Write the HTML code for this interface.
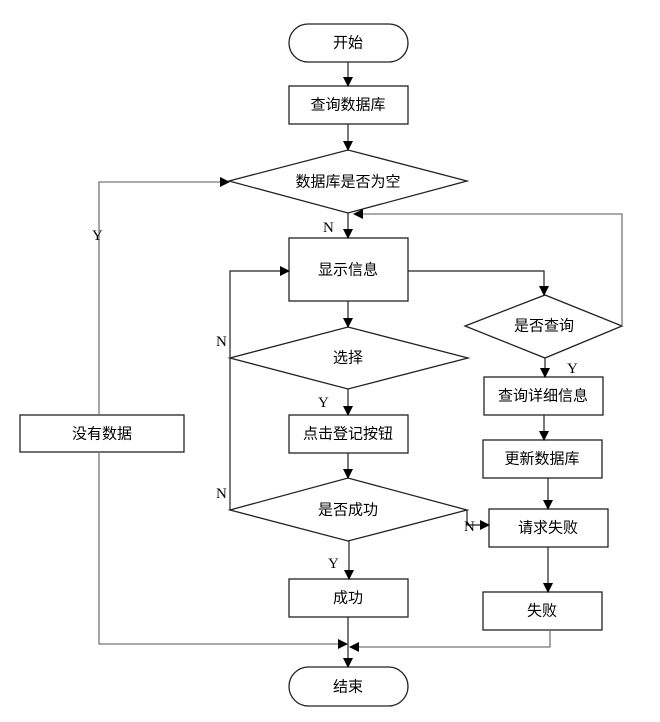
<!DOCTYPE html>
<html><head><meta charset="utf-8"><style>
html,body{margin:0;padding:0;background:#fff;}
svg{display:block;}
text{font-family:"Liberation Serif","Noto Sans CJK SC",serif;font-size:15px;fill:#000;}
.c{font-family:"Liberation Sans","Noto Sans CJK SC",sans-serif;text-anchor:middle;dominant-baseline:central;}
</style></head><body>
<svg width="660" height="722" viewBox="0 0 660 722" xmlns="http://www.w3.org/2000/svg">
<defs><marker id="a" markerWidth="10" markerHeight="10" refX="9" refY="5" orient="auto" markerUnits="userSpaceOnUse"><path d="M0,0 L10,5 L0,10 z" fill="#000"/></marker></defs>
<g fill="#fff" stroke="#222" stroke-width="1.3">
<rect x="289" y="24" width="119" height="38" rx="19"/>
<rect x="289" y="86" width="119" height="38"/>
<polygon points="229,181 348,150 467,181 348,213"/>
<rect x="289" y="238" width="119" height="63"/>
<polygon points="230,358 348,327 468,358 348,389"/>
<rect x="289" y="415" width="119" height="38"/>
<polygon points="230,510 348,478 467,510 348,541"/>
<rect x="289" y="579" width="119" height="38"/>
<rect x="289" y="667" width="119" height="39" rx="19.5"/>
<rect x="20" y="415" width="164" height="37"/>
<polygon points="465,326 545,295 622,326 545,358"/>
<rect x="484" y="377" width="119" height="38"/>
<rect x="483" y="440" width="119" height="38"/>
<rect x="489" y="509" width="119" height="38"/>
<rect x="483" y="592" width="119" height="38"/>
</g>
<g fill="none" stroke="#222" stroke-width="1.2" marker-end="url(#a)">
<line x1="348" y1="62" x2="348" y2="86"/>
<line x1="348" y1="124" x2="348" y2="150"/>
<line x1="348" y1="213" x2="348" y2="238"/>
<line x1="348" y1="301" x2="348" y2="327"/>
<line x1="348" y1="389" x2="348" y2="415"/>
<line x1="348" y1="453" x2="348" y2="478"/>
<line x1="349" y1="541" x2="349" y2="579"/>
<line x1="348" y1="617" x2="348" y2="667"/>
<polyline points="408,271 544,271 544,295"/>
<line x1="545" y1="358" x2="545" y2="377"/>
<line x1="544" y1="415" x2="544" y2="440"/>
<line x1="548" y1="478" x2="548" y2="509"/>
<line x1="548" y1="547" x2="548" y2="592"/>
<polyline points="230,510 230,271 289,271"/>
<polyline points="467,510 467,525 489,525"/>
</g>
<g fill="none" stroke="#777" stroke-width="1.3" marker-end="url(#a)">
<polyline points="99,415 99,182 229,182"/>
<polyline points="99,452 99,644 347,644"/>
<polyline points="550,630 550,647 350,647"/>
<polyline points="622,326 622,214 354,214"/>
</g>
<text class="c" x="348" y="43">开始</text>
<text class="c" x="348" y="105">查询数据库</text>
<text class="c" x="348" y="182">数据库是否为空</text>
<text class="c" x="348" y="270">显示信息</text>
<text class="c" x="348" y="358">选择</text>
<text class="c" x="348" y="434">点击登记按钮</text>
<text class="c" x="348" y="510">是否成功</text>
<text class="c" x="348" y="598">成功</text>
<text class="c" x="348" y="687">结束</text>
<text class="c" x="102" y="434">没有数据</text>
<text class="c" x="544" y="326">是否查询</text>
<text class="c" x="543" y="396">查询详细信息</text>
<text class="c" x="542" y="459">更新数据库</text>
<text class="c" x="548" y="528">请求失败</text>
<text class="c" x="542" y="611">失败</text>
<text x="92" y="240">Y</text>
<text x="323" y="232">N</text>
<text x="216" y="346">N</text>
<text x="318" y="407">Y</text>
<text x="216" y="498">N</text>
<text x="328" y="568">Y</text>
<text x="464" y="531">N</text>
<text x="567" y="373">Y</text>
</svg>
</body></html>
